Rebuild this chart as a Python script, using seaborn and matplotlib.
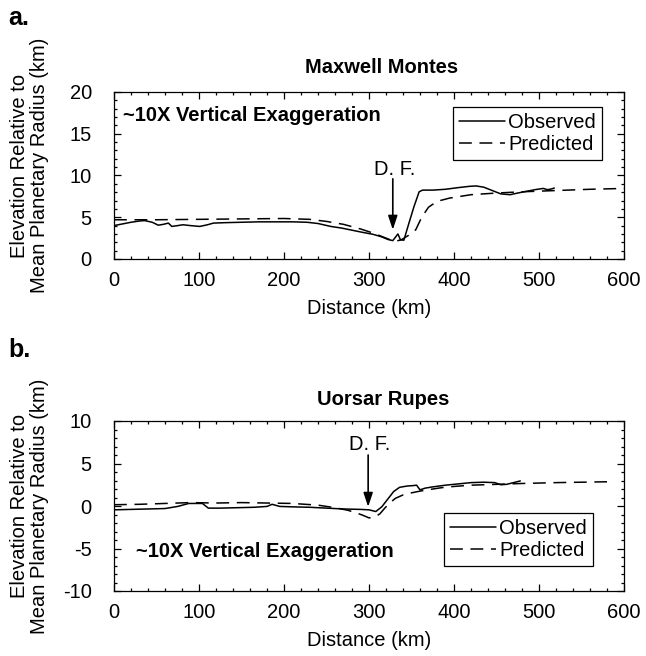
import matplotlib
matplotlib.use("Agg")
import matplotlib.pyplot as plt
from matplotlib.ticker import MultipleLocator
import pandas as pd
import seaborn as sns

# Maxwell Montes profile (distance in km, elevation in km)
obs_a_x = [0, 10, 20, 30, 36, 45, 52, 58, 64, 68, 75, 81, 90, 101, 110, 117, 130, 150,
           170, 190, 210, 227, 240, 255, 268, 280, 292, 305, 315, 322, 328, 331, 334,
           337, 341, 347, 353, 359, 363, 375, 390, 405, 418, 426, 435, 445, 455, 466,
           475, 485, 495, 505, 510, 515, 518]
obs_a_y = [4.0, 4.2, 4.4, 4.55, 4.6, 4.4, 4.05, 4.15, 4.3, 3.9, 4.0, 4.1, 4.0, 3.9, 4.1,
           4.3, 4.35, 4.4, 4.45, 4.45, 4.45, 4.4, 4.25, 3.9, 3.7, 3.45, 3.2, 2.95, 2.65,
           2.35, 2.2, 2.6, 3.0, 2.3, 2.25, 4.3, 6.3, 8.05, 8.25, 8.25, 8.35, 8.55, 8.7,
           8.75, 8.6, 8.2, 7.8, 7.7, 7.9, 8.1, 8.3, 8.45, 8.3, 8.4, 8.5]
pred_a_x = [0, 50, 100, 150, 200, 230, 250, 270, 290, 305, 320, 330, 338, 346, 355, 362,
            370, 380, 395, 420, 450, 480, 520, 560, 600]
pred_a_y = [4.7, 4.7, 4.75, 4.8, 4.85, 4.75, 4.5, 4.15, 3.6, 3.1, 2.5, 2.1, 2.3, 2.8, 3.5,
            5.0, 6.2, 6.9, 7.3, 7.7, 7.9, 8.05, 8.2, 8.35, 8.45]

# Uorsar Rupes profile
obs_b_x = [0, 20, 40, 60, 75, 88, 104, 111, 125, 145, 165, 180, 186, 195, 210, 230, 250,
           270, 290, 300, 308, 315, 322, 329, 336, 345, 352, 356, 360, 366, 375, 390, 405,
           420, 435, 448, 455, 462, 470, 478]
obs_b_y = [-0.45, -0.4, -0.35, -0.3, -0.05, 0.3, 0.3, -0.25, -0.25, -0.2, -0.15, -0.05,
           0.2, -0.05, -0.1, -0.15, -0.25, -0.35, -0.4, -0.45, -0.65, -0.1, 0.8, 1.7, 2.2,
           2.35, 2.4, 2.45, 1.9, 2.1, 2.25, 2.45, 2.6, 2.75, 2.8, 2.75, 2.5, 2.55, 2.75, 2.95]
pred_b_x = [0, 30, 60, 90, 120, 150, 180, 210, 240, 260, 275, 285, 293, 300, 307, 313,
            319, 325, 331, 340, 350, 360, 372, 385, 400, 420, 450, 480, 520, 550, 580]
pred_b_y = [0.15, 0.2, 0.3, 0.4, 0.35, 0.4, 0.35, 0.3, 0.1, -0.2, -0.5, -0.8, -1.1, -1.4,
            -1.3, -0.9, -0.2, 0.4, 0.9, 1.3, 1.55, 1.75, 1.95, 2.15, 2.3, 2.45, 2.55, 2.65,
            2.75, 2.8, 2.85]

sns.set_style("ticks")
plt.rcParams["font.family"] = ["Liberation Sans", "DejaVu Sans"]
plt.rcParams["axes.unicode_minus"] = False
for key in ("text.color", "axes.labelcolor", "xtick.color", "ytick.color",
            "axes.edgecolor"):
    plt.rcParams[key] = "black"

FS = 14.5
DASH = (0, (8.4, 5))
YLABEL = "Elevation Relative to\nMean Planetary Radius (km)"

fig = plt.figure(figsize=(6.46, 6.56), dpi=100)
ax_a = fig.add_axes([114 / 646, 1 - 259 / 656, 510 / 646, 167 / 656])
ax_b = fig.add_axes([114 / 646, 1 - 591 / 656, 510 / 646, 170 / 656])


def draw_panel(ax, ox, oy, px, py, ylim, title, title_xy, label_y,
               leg_anchor, exag_xy, df_x, df_text_y, arrow_from, arrow_to):
    obs = pd.DataFrame({"x": ox, "y": oy})
    pred = pd.DataFrame({"x": px, "y": py})
    sns.lineplot(data=obs, x="x", y="y", ax=ax, color="black", lw=1.1,
                 label="Observed", sort=False, estimator=None)
    sns.lineplot(data=pred, x="x", y="y", ax=ax, color="black", lw=1.1,
                 linestyle=DASH, label="Predicted", sort=False, estimator=None)
    ax.set_xlim(0, 600)
    ax.set_ylim(*ylim)
    ax.xaxis.set_major_locator(MultipleLocator(100))
    ax.xaxis.set_minor_locator(MultipleLocator(20))
    ax.yaxis.set_major_locator(MultipleLocator(5))
    ax.yaxis.set_minor_locator(MultipleLocator(1))
    ax.tick_params(which="both", direction="in", top=True, right=True,
                   color="black", labelcolor="black", width=0.9)
    ax.tick_params(which="major", length=5, labelsize=FS)
    ax.tick_params(which="minor", length=2.5)
    ax.tick_params(axis="y", pad=16)
    ax.tick_params(axis="x", pad=9)
    for s in ax.spines.values():
        s.set_linewidth(0.9)
        s.set_color("black")
    ax.set_xlabel("Distance (km)", fontsize=FS, labelpad=6, color="black")
    ax.set_ylabel(YLABEL, fontsize=FS, linespacing=1.05, color="black")
    ax.yaxis.set_label_coords(-0.128, label_y)
    ax.text(*title_xy, title, transform=ax.transAxes, ha="center", va="center",
            fontsize=FS, fontweight="bold", color="black")
    ax.text(*exag_xy, "~10X Vertical Exaggeration", ha="left", va="center",
            fontsize=FS, fontweight="bold", color="black")
    ax.text(df_x + 2, df_text_y, "D. F.", ha="center", va="center", fontsize=FS,
            color="black")
    ax.annotate("", xy=(df_x, arrow_to), xytext=(df_x, arrow_from),
                arrowprops=dict(arrowstyle="-|>,head_length=0.6,head_width=0.2",
                                color="black", lw=1.2, mutation_scale=14,
                                shrinkA=0, shrinkB=0))
    leg = ax.legend(loc="upper right", bbox_to_anchor=leg_anchor, fontsize=FS,
                    frameon=True, fancybox=False, edgecolor="black",
                    handlelength=2.3, handletextpad=0.15, borderpad=0.3,
                    labelspacing=0.15, borderaxespad=0)
    for t in leg.get_texts():
        t.set_color("black")
    leg.get_frame().set_linewidth(0.9)
    leg.get_frame().set_alpha(1)


draw_panel(ax_a, obs_a_x, obs_a_y, pred_a_x, pred_a_y, (0, 20), "Maxwell Montes",
           (0.524, 1.144), 0.56, (0.957, 0.91), (10, 17.2), 328, 10.7, 9.6, 3.5)
draw_panel(ax_b, obs_b_x, obs_b_y, pred_b_x, pred_b_y, (-10, 10), "Uorsar Rupes",
           (0.527, 1.124), 0.50, (0.939, 0.459), (26, -5.4), 299, 7.2, 6.0, -0.1)

fig.text(8 / 646, 1 - 25 / 656, "a.", fontsize=18, fontweight="bold", va="baseline",
         color="black")
fig.text(8 / 646, 1 - 357 / 656, "b.", fontsize=18, fontweight="bold", va="baseline",
         color="black")

fig.savefig("out.png", dpi=100, facecolor="white")
